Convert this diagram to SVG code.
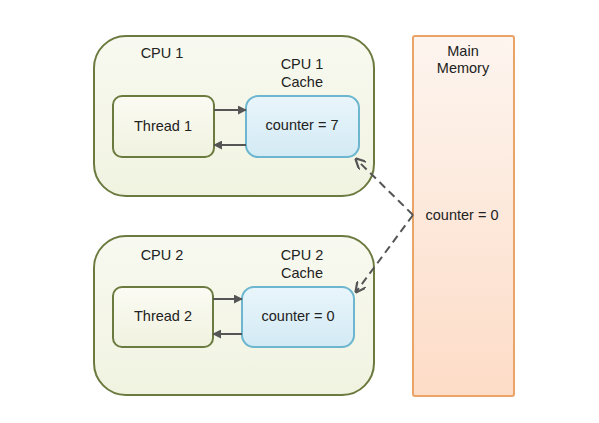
<svg xmlns="http://www.w3.org/2000/svg" width="599" height="423" viewBox="0 0 599 423">
<defs>
<linearGradient id="gCpu" x1="0" y1="0" x2="0" y2="1"><stop offset="0" stop-color="#f8f9f0"/><stop offset="1" stop-color="#f1f3e1"/></linearGradient>
<linearGradient id="gThr" x1="0" y1="0" x2="0" y2="1"><stop offset="0" stop-color="#fbfbf4"/><stop offset="1" stop-color="#f0f2df"/></linearGradient>
<linearGradient id="gCache" x1="0" y1="0" x2="0" y2="1"><stop offset="0" stop-color="#e9f5fb"/><stop offset="1" stop-color="#d3eaf4"/></linearGradient>
<linearGradient id="gMem" x1="0" y1="0" x2="0" y2="1"><stop offset="0" stop-color="#fdf5ef"/><stop offset="1" stop-color="#fddcc7"/></linearGradient>
<marker id="ah" viewBox="0 0 10 10" refX="9" refY="5" markerWidth="9" markerHeight="9" markerUnits="userSpaceOnUse" orient="auto"><path d="M0,0 L10,5 L0,10 z" fill="#555"/></marker>
<marker id="ah2" viewBox="0 0 10 10" refX="9" refY="5" markerWidth="11" markerHeight="11" markerUnits="userSpaceOnUse" orient="auto"><path d="M0,0 L10,5 L0,10" fill="none" stroke="#555" stroke-width="2"/></marker>
</defs>
<style>
text{font-family:"Liberation Sans",Arial,sans-serif;font-size:14.5px;fill:#222;text-anchor:middle}
.cpu{fill:url(#gCpu);stroke:#6b7a3e;stroke-width:2}
.thr{fill:url(#gThr);stroke:#6b7a3e;stroke-width:2}
.cache{fill:url(#gCache);stroke:#6cb6cf;stroke-width:2}
.mem{fill:url(#gMem);stroke:#eba468;stroke-width:2}
.c{stroke:#555;stroke-width:2;fill:none;marker-end:url(#ah)}
.d{stroke:#555;stroke-width:2;fill:none;stroke-dasharray:8,5;marker-end:url(#ah2)}
</style>
<rect width="599" height="423" fill="#fff"/>
<g id="cpu1"><rect class="cpu" x="94" y="36" width="280" height="160" rx="32"/><text x="162" y="58">CPU 1</text></g>
<g id="thread1"><rect class="thr" x="113" y="96" width="101" height="61" rx="9"/><text x="163" y="131">Thread 1</text></g>
<g id="cache1"><rect class="cache" x="246" y="96" width="113" height="61" rx="12"/><text x="302" y="69">CPU 1</text><text x="302" y="87">Cache</text><text x="302" y="130">counter = 7</text></g>
<g id="cpu2"><rect class="cpu" x="94" y="236" width="280" height="159" rx="32"/><text x="162" y="260">CPU 2</text></g>
<g id="thread2"><rect class="thr" x="113" y="287" width="100" height="60" rx="9"/><text x="163" y="321">Thread 2</text></g>
<g id="cache2"><rect class="cache" x="242" y="287" width="112" height="60" rx="12"/><text x="302" y="260">CPU 2</text><text x="302" y="278">Cache</text><text x="298" y="321">counter = 0</text></g>
<g id="memory"><rect class="mem" x="413" y="36" width="101" height="360" rx="2"/><text x="463" y="56">Main</text><text x="463" y="73">Memory</text><text x="462" y="220">counter = 0</text></g>
<g id="connectors">
<path class="c" d="M214,110 L246,110"/>
<path class="c" d="M246,145 L214,145"/>
<path class="c" d="M213,299 L242,299"/>
<path class="c" d="M242,334 L213,334"/>
<path class="d" d="M413,215 L356,159"/>
<path class="d" d="M413,215 L356,292"/>
</g>
</svg>
